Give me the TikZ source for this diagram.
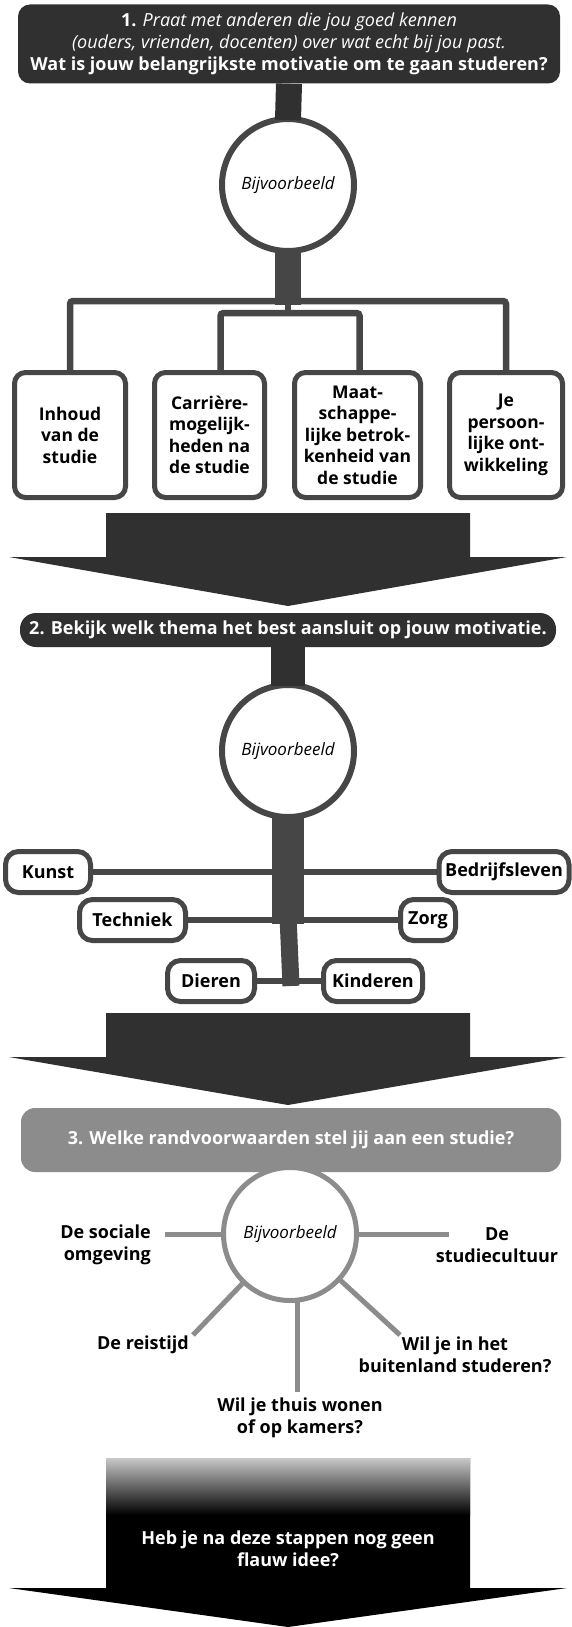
\documentclass[tikz,border=0pt]{standalone}
\usepackage{fontspec}
\setmainfont{Open Sans}
\usepackage{xcolor}
\usetikzlibrary{positioning}
\definecolor{inkgray}{RGB}{48, 48, 48}
\definecolor{rimgray}{RGB}{70, 70, 70}
\definecolor{softgray}{RGB}{140, 140, 140}
\definecolor{fadegray}{RGB}{200, 200, 200}

\begin{document}
\begin{tikzpicture}[x=1pt, y=-1pt,
    banner/.style = {fill=inkgray, text=white, rounded corners=12pt, align=center, inner sep=0pt, font=\bfseries\fontsize{18}{22}\selectfont},
    example/.style = {circle, draw=rimgray, line width=6pt, fill=white, minimum size=132pt, inner sep=0pt, font=\itshape\fontsize{17}{20}\selectfont},
    motive/.style = {draw=rimgray, line width=5pt, fill=white, rounded corners=11pt, minimum height=125pt, align=center, inner sep=0pt, font=\bfseries\fontsize{17.5}{21.5}\selectfont},
    theme/.style = {draw=rimgray, line width=5pt, fill=white, rounded corners=13pt, minimum height=41pt, inner sep=0pt, font=\bfseries\fontsize{18}{22}\selectfont},
    branch/.style = {draw=rimgray, line width=6.5pt},
    spoke/.style = {draw=softgray, line width=5pt},
    wish/.style = {align=center, inner sep=0pt, font=\bfseries\fontsize{18}{22}\selectfont}]
    \fill[white] (0,0) rectangle (572,1627);
    \useasboundingbox (0,0) rectangle (572,1627);

    % stap 1: motivatie
    \node[banner, minimum width=542pt, minimum height=79pt] (stap1) at (289,44)
        {\textbf{1.} \textit{\mdseries Praat met anderen die jou goed kennen}\\
         \textit{\mdseries (ouders, vrienden, docenten) over wat echt bij jou past.}\\
         Wat is jouw belangrijkste motivatie om te gaan studeren?};
    \node[example] (vb1) at (288,185) {Bijvoorbeeld};
    \draw[inkgray, line width=26pt] (stap1.south) -- ([yshift=-4pt]vb1.north);

    \node[motive, minimum width=111pt] (inhoud) at (70,435) {Inhoud\\van de\\studie};
    \node[motive, minimum width=110pt] (carriere) at (209.5,435) {Carrière-\\mogelijk-\\heden na\\de studie};
    \node[motive, minimum width=126pt] (maat) at (357.5,435) {Maat-\\schappe-\\lijke betrok-\\kenheid van\\de studie};
    \node[motive, minimum width=113pt] (persoon) at (506,435) {Je\\persoon-\\lijke ont-\\wikkeling};

    \coordinate (neck1) at (288,305);
    \coordinate (hub1) at (288,301);
    \coordinate (hub2) at (288,313);
    \draw[rimgray, line width=26pt] ([yshift=4pt]vb1.south) -- (neck1);
    \draw[branch, rounded corners=3pt] (inhoud.north) |- (hub1) -| (persoon.north);
    \draw[branch, rounded corners=3pt] ([xshift=11pt]carriere.north) |- (hub2) -| ([xshift=2pt]maat.north);
    \draw[branch] (neck1) -- (hub2);

    \fill[inkgray] (106,513) -- (470,513) -- (470,557) -- (567,557) -- (288,606) -- (9,557) -- (106,557) -- cycle;

    % stap 2: thema
    \node[banner, minimum width=536pt, minimum height=34pt, rounded corners=16pt] (stap2) at (288,630)
        {2. Bekijk welk thema het best aansluit op jouw motivatie.};
    \node[example] (vb2) at (288,751) {Bijvoorbeeld};
    \draw[inkgray, line width=34pt] (stap2.south) -- ([yshift=-4pt]vb2.north);

    \node[theme, minimum width=85pt] (kunst) at (48,872) {Kunst};
    \node[theme, minimum width=130pt] (bedrijf) at (504,872) {Bedrijfsleven};
    \node[theme, minimum width=106pt] (techniek) at (132.5,920) {Techniek};
    \node[theme, minimum width=55pt] (zorg) at (428,920) {Zorg};
    \node[theme, minimum width=87pt] (dieren) at (211,981) {Dieren};
    \node[theme, minimum width=99pt] (kinderen) at (373,981) {Kinderen};

    \coordinate (spine1) at (288,924);
    \coordinate (spine2) at (291,986);
    \draw[branch] (kunst) -- (bedrijf);
    \draw[branch] (techniek) -- (zorg);
    \draw[branch] (dieren) -- (kinderen);
    \draw[rimgray, line width=32pt] ([yshift=4pt]vb2.south) -- (spine1);
    \draw[rimgray, line width=17pt] ([yshift=8pt]spine1) -- (spine2);

    \fill[inkgray] (106,1013) -- (470,1013) -- (470,1057) -- (567,1057) -- (288,1105) -- (9,1057) -- (106,1057) -- cycle;

    % stap 3: randvoorwaarden
    \node[banner, fill=softgray, minimum width=540pt, minimum height=64pt, rounded corners=14pt] (stap3) at (291,1140)
        {3. Welke randvoorwaarden stel jij aan een studie?};
    \node[example, draw=softgray, line width=5pt, minimum size=133pt] (vb3) at (290,1234) {Bijvoorbeeld};

    \coordinate (sp-w) at (165,1234);
    \coordinate (sp-e) at (449,1234);
    \coordinate (sp-sw) at (193,1335);
    \coordinate (sp-se) at (400,1335);
    \coordinate (sp-s) at (297,1392);
    \draw[spoke] (vb3) -- (sp-w);
    \draw[spoke] (vb3) -- (sp-e);
    \draw[spoke] (vb3) -- (sp-sw);
    \draw[spoke] (vb3) -- (sp-se);
    \draw[spoke] ([yshift=3pt]sp-s |- vb3.south) -- (sp-s);

    \node[wish, align=right, anchor=east] (sociaal) at (151,1245) {De sociale\\omgeving};
    \node[wish] (cultuur) at (497,1245) {De\\studiecultuur};
    \node[wish] (reistijd) at (143,1345) {De reistijd};
    \node[wish] (buitenland) at (455,1355) {Wil je in het\\buitenland studeren?};
    \node[wish] (thuis) at (300,1418) {Wil je thuis wonen\\of op kamers?};

    % slot
    \fill[black] (106,1458) -- (470,1458) -- (470,1588) -- (567,1588) -- (288,1627) -- (9,1588) -- (106,1588) -- cycle;
    \shade[top color=fadegray, bottom color=black] (106,1458) rectangle (470,1515);
    \node[wish, text=white] (idee) at (288,1549) {Heb je na deze stappen nog geen\\flauw idee?};
\end{tikzpicture}
\end{document}
